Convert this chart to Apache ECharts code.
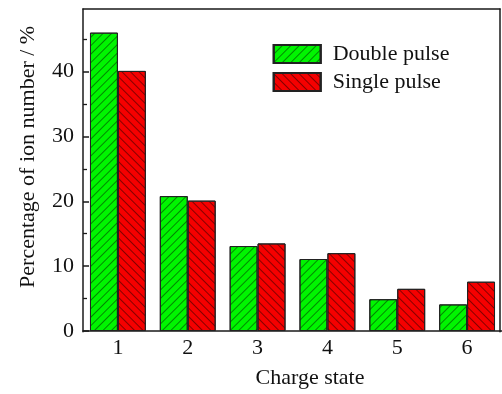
<!DOCTYPE html>
<html>
<head>
<meta charset="utf-8">
<script src="https://cdn.jsdelivr.net/npm/echarts@6/dist/echarts.min.js"></script>
<style>
html,body{margin:0;padding:0;background:#fff;}
#chart{width:502px;height:394px;}
</style>
</head>
<body>
<div id="chart"></div>
<script>
var categories = ['1', '2', '3', '4', '5', '6'];
var doublePulse = [46.0, 20.8, 13.1, 11.1, 4.9, 4.1];
var singlePulse = [40.1, 20.1, 13.5, 12.0, 6.5, 7.6];
var yTicks = [0, 10, 20, 30, 40];

var FONT = 'Liberation Serif';
var chart = echarts.init(document.getElementById('chart'), null, {renderer: 'canvas'});
var lineStyle = {color: '#1a1a1a', width: 1.5};
chart.setOption({
  animation: false,
  backgroundColor: '#fff',
  textStyle: {fontFamily: FONT},
  grid: [
    {left: 83, width: 421, top: 6.7, bottom: 62.3},
    {left: 83, right: 2, top: 9, bottom: 62.3}
  ],
  legend: {
    orient: 'vertical',
    left: 272.7,
    top: 43,
    padding: 0,
    icon: 'rect',
    itemWidth: 47,
    itemHeight: 18,
    itemGap: 6,
    textStyle: {fontFamily: FONT, fontSize: 22, color: '#111', padding: [0, 0, 0, 7]},
    data: ['Double pulse', 'Single pulse']
  },
  xAxis: [
    {
      type: 'category', gridIndex: 0, data: categories,
      axisLine: {show: true, lineStyle: lineStyle},
      axisTick: {show: false},
      axisLabel: {fontFamily: FONT, fontSize: 22, color: '#111', margin: 6},
      splitLine: {show: false},
      name: 'Charge state', nameLocation: 'middle', nameGap: 36,
      nameTextStyle: {fontFamily: FONT, fontSize: 22, color: '#111', padding: [0, 0, 0, 35]}
    },
    {
      type: 'value', gridIndex: 1, position: 'top', min: 0, max: 1,
      axisLine: {show: true, onZero: false, lineStyle: lineStyle},
      axisTick: {show: false}, axisLabel: {show: false}, splitLine: {show: false}
    },
    {
      type: 'value', gridIndex: 1, position: 'bottom', min: 0, max: 1,
      axisLine: {show: false}, axisTick: {show: false}, axisLabel: {show: false}, splitLine: {show: false}
    }
  ],
  yAxis: [
    {
      type: 'value', gridIndex: 0, min: 0, max: 50, interval: 10,
      axisLine: {show: false},
      axisTick: {show: true, inside: true, length: 6, lineStyle: lineStyle, customValues: yTicks},
      minorTick: {show: true, splitNumber: 2, length: 4, lineStyle: {color: '#1a1a1a', width: 1.3}},
      axisLabel: {fontFamily: FONT, fontSize: 22, color: '#111', margin: 9, customValues: yTicks},
      splitLine: {show: false},
      name: 'Percentage of ion number / %', nameLocation: 'middle', nameGap: 44, nameRotate: 90,
      nameTextStyle: {fontFamily: FONT, fontSize: 22, color: '#111', padding: [0, 0, 0, 24]}
    },
    {
      type: 'value', gridIndex: 1, position: 'left', min: 0, max: 1,
      axisLine: {show: true, onZero: false, lineStyle: lineStyle},
      axisTick: {show: false}, axisLabel: {show: false}, splitLine: {show: false}
    },
    {
      type: 'value', gridIndex: 1, position: 'right', min: 0, max: 1,
      axisLine: {show: true, onZero: false, lineStyle: lineStyle},
      axisTick: {show: false}, axisLabel: {show: false}, splitLine: {show: false}
    }
  ],
  series: [
    {
      name: 'Double pulse', type: 'bar', xAxisIndex: 0, yAxisIndex: 0,
      data: doublePulse,
      barGap: '0%', barCategoryGap: '20%',
      itemStyle: {
        color: '#00f500', borderColor: '#222', borderWidth: 1,
        decal: {symbol: 'rect', symbolSize: 1, color: 'rgba(0,50,0,0.55)', dashArrayX: [1, 0], dashArrayY: [1, 5], rotation: -Math.PI / 4}
      }
    },
    {
      name: 'Single pulse', type: 'bar', xAxisIndex: 0, yAxisIndex: 0,
      data: singlePulse,
      barGap: '0%', barCategoryGap: '20%',
      itemStyle: {
        color: '#f50000', borderColor: '#222', borderWidth: 1,
        decal: {symbol: 'rect', symbolSize: 1, color: 'rgba(60,0,0,0.6)', dashArrayX: [1, 0], dashArrayY: [1, 5], rotation: Math.PI / 4}
      }
    }
  ]
});
</script>
</body>
</html>
